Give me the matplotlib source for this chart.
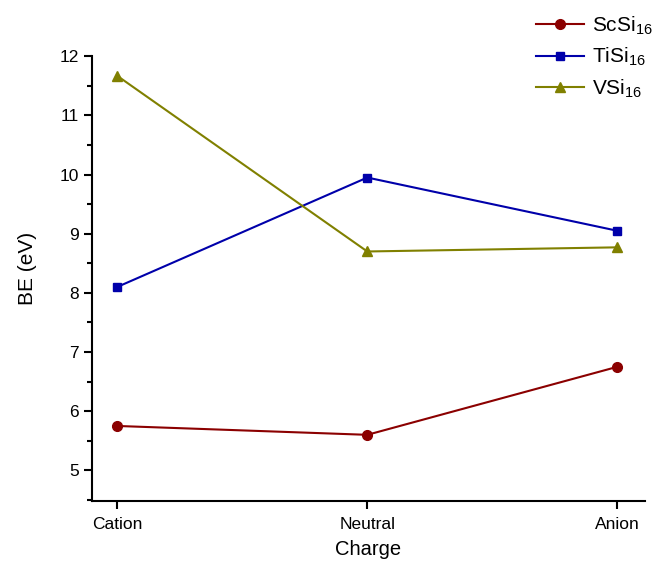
import matplotlib
matplotlib.use("Agg")
import matplotlib.pyplot as plt
from matplotlib.ticker import MultipleLocator

plt.rcParams['font.family'] = ['Liberation Sans', 'DejaVu Sans']
plt.rcParams['mathtext.fontset'] = 'custom'
plt.rcParams['mathtext.rm'] = 'Liberation Sans'
plt.rcParams['mathtext.it'] = 'Liberation Sans:italic'
plt.rcParams['mathtext.bf'] = 'Liberation Sans:bold'

charges = ['Cation', 'Neutral', 'Anion']
sc_si16 = [5.75, 5.60, 6.75]
ti_si16 = [8.10, 9.95, 9.05]
v_si16 = [11.67, 8.70, 8.77]

fig = plt.figure(figsize=(6.54, 5.63), dpi=100)
ax = fig.add_axes([0.141, 0.110, 0.845, 0.790])

x = range(len(charges))
ax.plot(x, sc_si16, '-o', color='#8b0000', lw=1.5, ms=7, label='ScSi$_{16}$')
ax.plot(x, ti_si16, '-s', color='#0000aa', lw=1.5, ms=6, label='TiSi$_{16}$')
ax.plot(x, v_si16, '-^', color='#808000', lw=1.5, ms=7, label='VSi$_{16}$')

ax.set_xlim(-0.1, 2.11)
ax.set_ylim(4.48, 12)
ax.set_xticks(list(x))
ax.set_xticklabels(charges)
ax.yaxis.set_major_locator(MultipleLocator(1))
ax.yaxis.set_minor_locator(MultipleLocator(0.5))
for s in ['top', 'right']:
    ax.spines[s].set_visible(False)
for s in ['left', 'bottom']:
    ax.spines[s].set_linewidth(1.5)
ax.tick_params(which='major', direction='out', length=6, width=1.5, labelsize=12.5)
ax.tick_params(axis='x', which='major', pad=5.5)
ax.tick_params(which='minor', direction='out', length=3.5, width=1.5)

ax.set_xlabel('Charge', fontsize=14.5, labelpad=6)
ax.set_ylabel('BE (eV)', fontsize=15)
ax.yaxis.set_label_coords(-0.1, 0.524)

fig.legend(loc='upper right', bbox_to_anchor=(1.026, 1.008), frameon=False,
           fontsize=15, handlelength=2.3, handletextpad=0.35, labelspacing=0.45)

fig.savefig('out.png', dpi=100)
